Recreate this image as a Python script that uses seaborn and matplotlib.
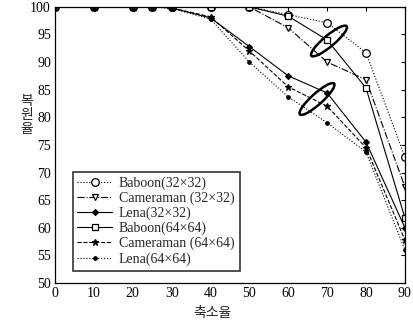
import matplotlib
matplotlib.use("Agg")
import matplotlib.pyplot as plt
from matplotlib.patches import Ellipse
from matplotlib.transforms import IdentityTransform
import seaborn as sns
import pandas as pd

x_vals = [0, 10, 20, 25, 30, 40, 50, 60, 70, 80, 90]
baboon32 = [100, 100, 100, 100, 100, 100, 100, 98.6, 97.1, 91.7, 72.8]
cameraman32 = [100, 100, 100, 100, 100, 100, 100, 96.2, 90.0, 86.8, 67.4]
lena32 = [100, 100, 100, 100, 99.8, 98.0, 92.8, 87.5, 84.4, 75.5, 60.0]
baboon64 = [100, 100, 100, 100, 100, 100, 100, 98.3, 94.0, 85.3, 61.8]
cameraman64 = [100, 100, 100, 100, 99.8, 98.2, 92.0, 85.5, 82.0, 74.5, 57.8]
lena64 = [100, 100, 100, 100, 99.7, 97.8, 90.0, 83.7, 79.0, 73.7, 56.0]
names = ["Baboon(32\u00d732)", "Cameraman (32\u00d732)", "Lena(32\u00d732)",
         "Baboon(64\u00d764)", "Cameraman (64\u00d764)", "Lena(64\u00d764)"]
series = [baboon32, cameraman32, lena32, baboon64, cameraman64, lena64]
x_ticks = [0, 10, 20, 30, 40, 50, 60, 70, 80, 90]
y_ticks = [50, 55, 60, 65, 70, 75, 80, 85, 90, 95, 100]

sns.set_theme(style="white")
plt.rcParams["font.family"] = ["Liberation Serif", "Noto Sans CJK KR"]

fig = plt.figure(figsize=(4.14, 3.26), dpi=100)
ax = fig.add_axes([0.133, 0.132, 0.845, 0.847])

styles = [
    dict(marker="o", ls=":", ms=5.5, mfc="white"),
    dict(marker="v", ls="-.", ms=4.5, mfc="white"),
    dict(marker="D", ls="-", ms=3, mfc="black"),
    dict(marker="s", ls="-", ms=4.5, mfc="white"),
    dict(marker="*", ls="--", ms=4.5, mfc="black"),
    dict(marker=".", ls=":", ms=5, mfc="black"),
]

for name, vals, st in zip(names, series, styles):
    df = pd.DataFrame({"x": x_vals, "y": vals})
    sns.lineplot(data=df, x="x", y="y", ax=ax, color="black", lw=0.8,
                 marker=st["marker"], linestyle=st["ls"], markersize=st["ms"],
                 markerfacecolor=st["mfc"], markeredgecolor="black",
                 markeredgewidth=0.9, label=name)

# hand-drawn group ellipses (annotation), in figure pixels
for cx, cy, w, ang in [(329, 326 - 41, 46, 40), (317, 326 - 99, 46, 42)]:
    ax.add_patch(Ellipse((cx, cy), width=w, height=11, angle=ang,
                         transform=IdentityTransform(), fill=False,
                         edgecolor="black", lw=1.8, clip_on=False))

ax.set_xlim(0, 90)
ax.set_ylim(50, 100)
ax.set_xticks(x_ticks)
ax.set_yticks(y_ticks)
ax.tick_params(direction="in", top=True, right=True, length=3, width=0.8,
               labelsize=10, colors="black", pad=3)
for s in ax.spines.values():
    s.set_color("black")
    s.set_linewidth(0.9)
ax.set_xlabel("")
ax.set_ylabel("")
ax.text(0.45, -0.11, "축소율", transform=ax.transAxes, ha="center", va="center",
        fontsize=10, family=["Noto Sans CJK KR"])
ax.text(-0.08, 0.61, "복\n원\n율", transform=ax.transAxes, ha="center",
        va="center", fontsize=10, family=["Noto Sans CJK KR"], linespacing=1.0)

leg = ax.legend(loc="lower left", bbox_to_anchor=(0.03, 0.02), fontsize=10,
                frameon=True, fancybox=False, edgecolor="black",
                handlelength=2.5, borderpad=0.35, labelspacing=0.12,
                handletextpad=0.5)
leg.get_frame().set_linewidth(1.2)

fig.savefig("out.png", dpi=100)
